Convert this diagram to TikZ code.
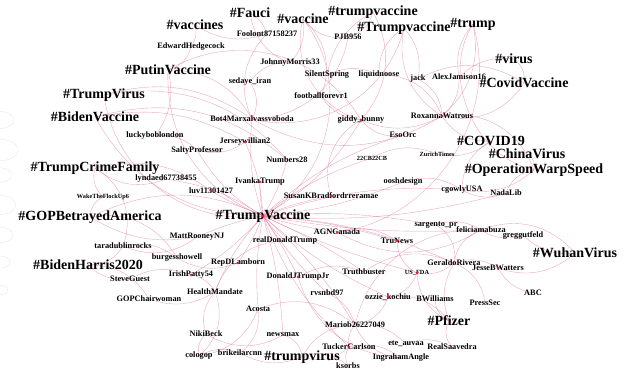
\documentclass[tikz,border=0pt]{standalone}
\usepackage{fontspec}
\setmainfont{Liberation Serif}
\usetikzlibrary{backgrounds}
\definecolor{edgepink}{RGB}{222,110,145}
\definecolor{dotred}{RGB}{225,30,60}
\begin{document}
\begin{tikzpicture}[x=1pt,y=-1pt,
  tag/.style={inner sep=0.5pt, font=\bfseries\fontsize{14}{14}\selectfont},
  user/.style={inner sep=0.5pt, font=\bfseries\fontsize{8.3}{9}\selectfont},
  tiny/.style={inner sep=0.5pt, font=\bfseries\fontsize{6.3}{7}\selectfont},
  link/.style={draw=edgepink, line width=0.35pt, opacity=0.65}]
\useasboundingbox (0,0) rectangle (630,370);
% hashtags
\node[tag] (vaccines) at (195,25) {\#vaccines};
\node[tag] (fauci) at (250,13) {\#Fauci};
\node[tag] (vaccine) at (303,19) {\#vaccine};
\node[tag] (trumpvac) at (373,12) {\#trumpvaccine};
\node[tag] (Trumpvac) at (404,28) {\#Trumpvaccine};
\node[tag] (trump) at (473,24) {\#trump};
\node[tag] (virus) at (514,59) {\#virus};
\node[tag] (covidvac) at (524,83) {\#CovidVaccine};
\node[tag] (putin) at (168,70) {\#PutinVaccine};
\node[tag] (trumpvirusU) at (104,95) {\#TrumpVirus};
\node[tag] (bidenvac) at (95,117) {\#BidenVaccine};
\node[tag] (crime) at (95,168) {\#TrumpCrimeFamily};
\node[tag] (gop) at (90,217) {\#GOPBetrayedAmerica};
\node[tag] (bidenharris) at (88,265) {\#BidenHarris2020};
\node[tag] (hub) at (263,216) {\#TrumpVaccine};
\node[tag] (covid19) at (491,141) {\#COVID19};
\node[tag] (china) at (527,154) {\#ChinaVirus};
\node[tag] (warp) at (534,170) {\#OperationWarpSpeed};
\node[tag] (wuhan) at (575,253) {\#WuhanVirus};
\node[tag] (pfizer) at (449,321) {\#Pfizer};
\node[tag] (trumpvirus) at (302,357) {\#trumpvirus};
% accounts
\node[user] (foolont) at (267,34) {Foolont87158237};
\node[user] (hedgecock) at (191,47) {EdwardHedgecock};
\node[user] (johnny) at (290,63) {JohnnyMorris33};
\node[user] (sedaye) at (250,82) {sedaye\_iran};
\node[user] (silent) at (327,75) {SilentSpring};
\node[user] (liquid) at (379,75) {liquidnoose};
\node[user] (pjb) at (348,37) {PJB956};
\node[user] (jack) at (418,79) {jack};
\node[user] (alex) at (459,77) {AlexJamison16};
\node[user] (football) at (321,96) {footballforevr1};
\node[user] (bot4) at (252,119) {Bot4Marxalvassvoboda};
\node[user] (giddy) at (361,120) {giddy\_bunny};
\node[user] (roxanna) at (442,116) {RoxannaWatrous};
\node[user] (lucky) at (155,136) {luckyboblondon};
\node[user] (jersey) at (245,142) {Jerseywillian2};
\node[user] (salty) at (197,150) {SaltyProfessor};
\node[user] (numbers) at (287,160) {Numbers28};
\node[user] (eso) at (403,135) {EsoOrc};
\node[tiny] (cb22) at (372,158) {22CB22CB};
\node[tiny] (zurich) at (437,154) {ZurichTimes};
\node[user] (lynda) at (166,179) {lyndaed67738455};
\node[user] (ivanka) at (260,182) {IvankaTrump};
\node[user] (luv) at (211,191) {luv11301427};
\node[tiny] (wake) at (103,197) {WakeTheFlockUp6};
\node[user] (susan) at (331,196) {SusanKBradfordrreramae};
\node[user] (oosh) at (403,182) {ooshdesign};
\node[user] (cgowly) at (462,190) {cgowlyUSA};
\node[user] (nada) at (506,193) {NadaLib};
\node[user] (matt) at (197,237) {MattRooneyNJ};
\node[user] (rdt) at (285,241) {realDonaldTrump};
\node[user] (agn) at (337,232) {AGNCanada};
\node[user] (trunews) at (397,241) {TruNews};
\node[user] (sargento) at (436,225) {sargento\_pr};
\node[user] (felicia) at (481,230) {feliciamabuza};
\node[user] (gregg) at (523,235) {greggutfeld};
\node[user] (tara) at (123,246) {taradublinrocks};
\node[user] (burgess) at (177,258) {burgesshowell};
\node[user] (lamborn) at (238,263) {RepDLamborn};
\node[user] (steve) at (130,279) {SteveGuest};
\node[user] (patty) at (191,275) {IrishPatty54};
\node[user] (djtj) at (298,277) {DonaldJTrumpJr};
\node[user] (truth) at (364,272) {Truthbuster};
\node[tiny] (fda) at (417,273) {US\_FDA};
\node[user] (geraldo) at (454,263) {GeraldoRivera};
\node[user] (jesse) at (498,268) {JesseBWatters};
\node[user] (abc) at (533,293) {ABC};
\node[user] (press) at (485,303) {PressSec};
\node[user] (gopchair) at (149,299) {GOPChairwoman};
\node[user] (health) at (215,292) {HealthMandate};
\node[user] (rvsn) at (327,293) {rvsnbd97};
\node[user] (ozzie) at (388,297) {ozzie\_kochiu};
\node[user] (bwill) at (435,299) {BWilliams};
\node[user] (acosta) at (258,309) {Acosta};
\node[user] (niki) at (206,334) {NikiBeck};
\node[user] (newsmax) at (283,335) {newsmax};
\node[user] (mario) at (355,325) {Mariob26227049};
\node[user] (cologop) at (199,356) {cologop};
\node[user] (brianna) at (240,353) {brikeilarcnn};
\node[user] (tucker) at (349,347) {TuckerCarlson};
\node[user] (ete) at (406,344) {ete\_auvaa};
\node[user] (saavedra) at (452,347) {RealSaavedra};
\node[user] (ingraham) at (401,358) {IngrahamAngle};
\node[user] (ksorbs) at (348,366) {ksorbs};

\begin{scope}[on background layer]
% faint strokes at the left edge
\foreach \y/\r in {120/14,150/18,175/12,205/16,235/13,262/10,290/8}
  \draw[gray!22, line width=0.3pt] (0,\y) ellipse ({\r} and {0.6*\r});
% edges around the hub
\foreach \b/\c in {ivanka/5,numbers/-8,susan/6,rdt/-5,djtj/4,rvsn/-6,mario/8,agn/-4,
  trunews/6,acosta/-7,lamborn/5,matt/-6,luv/4,jersey/-10,bot4/12,tucker/-12,newsmax/6,
  ozzie/-8,truth/5,health/-10,patty/8,felicia/-6,geraldo/10,fda/-5,giddy/-14,eso/12,
  oosh/-8,cb22/10,lynda/-12,salty/14,sargento/7,nada/-9,cgowly/11}
  \draw[link] (hub.center) to[bend left=\c] (\b.center);
% longer edges
\foreach \a/\b/\c in {putin/hub/-35,putin/bot4/30,putin/lucky/25,putin/giddy/45,
  trumpvirusU/bot4/25,trumpvirusU/hub/-45,trumpvirusU/numbers/30,bidenvac/numbers/28,
  bidenvac/jersey/20,bidenvac/hub/-30,crime/luv/25,crime/lynda/-30,crime/tara/40,
  gop/hub/25,gop/matt/-20,gop/burgess/35,bidenharris/steve/-25,bidenharris/gopchair/30,
  bidenharris/tara/-30,vaccines/hedgecock/25,vaccines/foolont/-25,fauci/foolont/20,
  fauci/johnny/-30,vaccine/johnny/25,vaccine/pjb/-30,vaccine/football/35,vaccine/hub/50,
  vaccine/giddy/-45,trumpvac/pjb/30,trumpvac/silent/-25,trumpvac/giddy/35,
  Trumpvac/liquid/-30,Trumpvac/jack/25,Trumpvac/roxanna/-35,Trumpvac/bot4/45,
  trump/roxanna/30,trump/warp/-55,trump/alex/-25,trump/agn/50,virus/covidvac/30,
  virus/alex/-25,covidvac/roxanna/35,covidvac/jack/-30,covid19/zurich/25,
  covid19/cgowly/-30,covid19/roxanna/30,china/warp/40,warp/cgowly/25,warp/nada/-30,
  warp/roxanna/-40,wuhan/jesse/30,wuhan/felicia/-35,wuhan/gregg/25,pfizer/bwill/30,
  pfizer/ozzie/-30,pfizer/geraldo/25,pfizer/saavedra/-35,pfizer/fda/30,
  trumpvirus/tucker/-30,trumpvirus/brianna/25,trumpvirus/ksorbs/30,
  trumpvirus/newsmax/-35,trumpvirus/mario/30,geraldo/jesse/25,jesse/abc/-25,
  geraldo/press/30,geraldo/truth/-30,geraldo/fda/25,geraldo/sargento/-35,
  geraldo/felicia/30,cologop/niki/30,cologop/health/-35,cologop/brianna/25,
  cologop/acosta/-30,niki/health/30,health/patty/-25,acosta/mario/30,mario/tucker/-25,
  mario/ete/25,mario/ingraham/-30,tucker/ingraham/25,tucker/ksorbs/-30,ete/saavedra/25,
  ozzie/fda/-30,ozzie/mario/30,truth/djtj/-25,sargento/felicia/25,felicia/gregg/-25,
  agn/trunews/25,trunews/fda/-30,roxanna/giddy/25,roxanna/alex/-25,jack/roxanna/30,
  silent/liquid/25,johnny/sedaye/-30,sedaye/bot4/30,football/giddy/-25,eso/giddy/30,
  zurich/cb22/-25,oosh/cgowly/25,cgowly/nada/-25,lamborn/burgess/25,burgess/tara/-25,
  steve/patty/25,gopchair/health/-25,matt/tara/30,hedgecock/putin/30,foolont/bot4/-35,
  pjb/bot4/40,liquid/roxanna/35,giddy/susan/-40,bot4/roxanna/-30,lucky/salty/25,
  salty/jersey/-25,wake/crime/30,wake/gop/-30,mario/felicia/40,djtj/ingraham/-35,
  rvsn/mario/25,newsmax/niki/30,brianna/acosta/-30,health/rdt/35,agn/felicia/-30}
  \draw[link] (\a.center) to[bend left=\c] (\b.center);
\end{scope}
% node markers
\foreach \n in {roxanna,giddy,agn,luv,ivanka,patty,djtj,tucker,trunews,jersey,susan,
  bot4,lamborn,ozzie,jesse,fda,hub}
  \fill[dotred] (\n.center) circle (1.4);
\end{tikzpicture}
\end{document}
